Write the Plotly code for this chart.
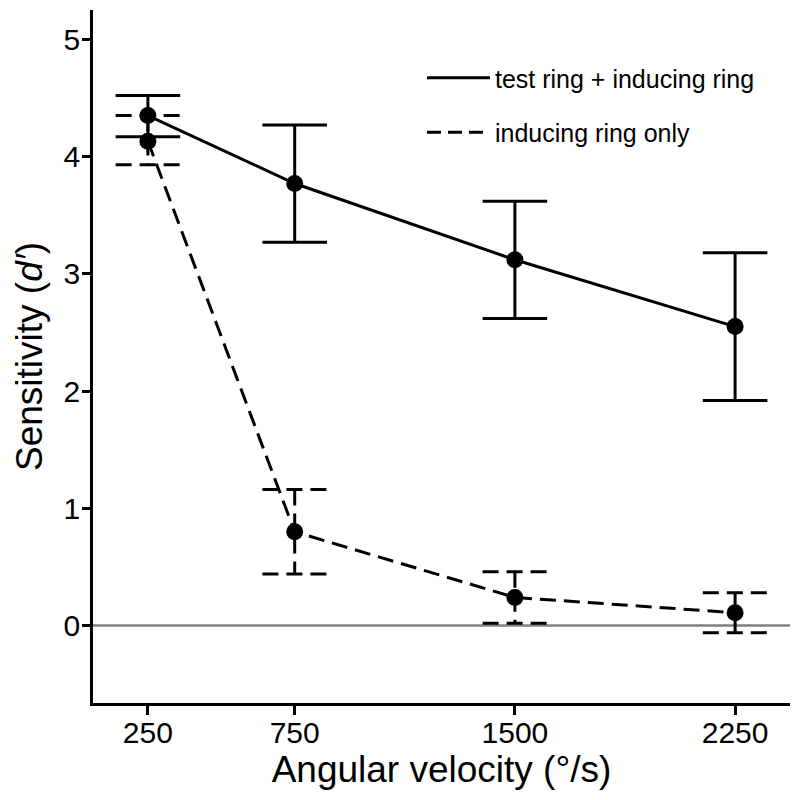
import plotly.graph_objects as go

velocity = [250, 750, 1500, 2250]
both_mean = [4.35, 3.77, 3.12, 2.55]
both_lo = [4.17, 3.27, 2.62, 1.92]
both_hi = [4.52, 4.27, 3.62, 3.18]
induce_mean = [4.13, 0.80, 0.24, 0.11]
induce_lo = [3.93, 0.44, 0.02, -0.06]
induce_hi = [4.35, 1.16, 0.46, 0.28]

CAP = 110  # half cap width in data units
DASH = "16px,8px"
LW = 3

def err_path(xs, lo, hi):
    px, py = [], []
    for x, l, h in zip(xs, lo, hi):
        px += [x - CAP, x + CAP, None, x, x, None, x - CAP, x + CAP, None]
        py += [h, h, None, h, l, None, l, l, None]
    return px, py

fig = go.Figure()

ex, ey = err_path(velocity, both_lo, both_hi)
fig.add_trace(go.Scatter(x=ex, y=ey, mode="lines", line=dict(color="black", width=LW),
                         showlegend=False, hoverinfo="skip"))
ex, ey = err_path(velocity, induce_lo, induce_hi)
fig.add_trace(go.Scatter(x=ex, y=ey, mode="lines",
                         line=dict(color="black", width=LW, dash=DASH),
                         showlegend=False, hoverinfo="skip"))

fig.add_trace(go.Scatter(x=velocity, y=both_mean, mode="lines+markers",
                         line=dict(color="black", width=LW),
                         marker=dict(color="black", size=17), showlegend=False))
fig.add_trace(go.Scatter(x=velocity, y=induce_mean, mode="lines+markers",
                         line=dict(color="black", width=LW, dash=DASH),
                         marker=dict(color="black", size=17), showlegend=False))

# legend entries (lines only)
fig.add_trace(go.Scatter(x=[None], y=[None], mode="lines", name="test ring + inducing ring",
                         legendgroup="a", line=dict(color="black", width=LW)))
fig.add_trace(go.Scatter(x=[None], y=[None], mode="lines", name="inducing ring only",
                         legendgroup="b", line=dict(color="black", width=LW, dash="14px,7px")))

fig.add_shape(type="line", xref="paper", x0=0, x1=1, yref="y", y0=0, y1=0,
              line=dict(color="#808080", width=2.5), layer="below")

fig.update_layout(
    width=800, height=800,
    margin=dict(l=93, r=10, t=10, b=97),
    plot_bgcolor="white", paper_bgcolor="white",
    font=dict(family="Liberation Sans, Arial, sans-serif", color="black"),
    legend=dict(x=0.472, y=0.935, xanchor="left", yanchor="top",
                font=dict(size=25), bgcolor="rgba(0,0,0,0)",
                itemwidth=63, tracegroupgap=19),
    xaxis=dict(range=[63, 2437], tickvals=velocity, ticktext=[str(v) for v in velocity],
               showgrid=False, zeroline=False, showline=True, linecolor="black",
               linewidth=2.5, ticks="outside", ticklen=9, tickwidth=2.5, tickcolor="black",
               tickfont=dict(size=30), ticklabelstandoff=-8,
               title=dict(text="Angular velocity (°/s)", font=dict(size=37), standoff=4)),
    yaxis=dict(range=[-0.66, 5.25], tickvals=[0, 1, 2, 3, 4, 5],
               showgrid=False, zeroline=False, showline=True, linecolor="black",
               linewidth=2.5, ticks="outside", ticklen=8, tickwidth=2.5, tickcolor="black",
               tickfont=dict(size=30), ticklabelstandoff=-4,
               title=dict(text="Sensitivity (<i>d′</i>)", font=dict(size=37), standoff=10)),
)

fig.write_html("out.html")
